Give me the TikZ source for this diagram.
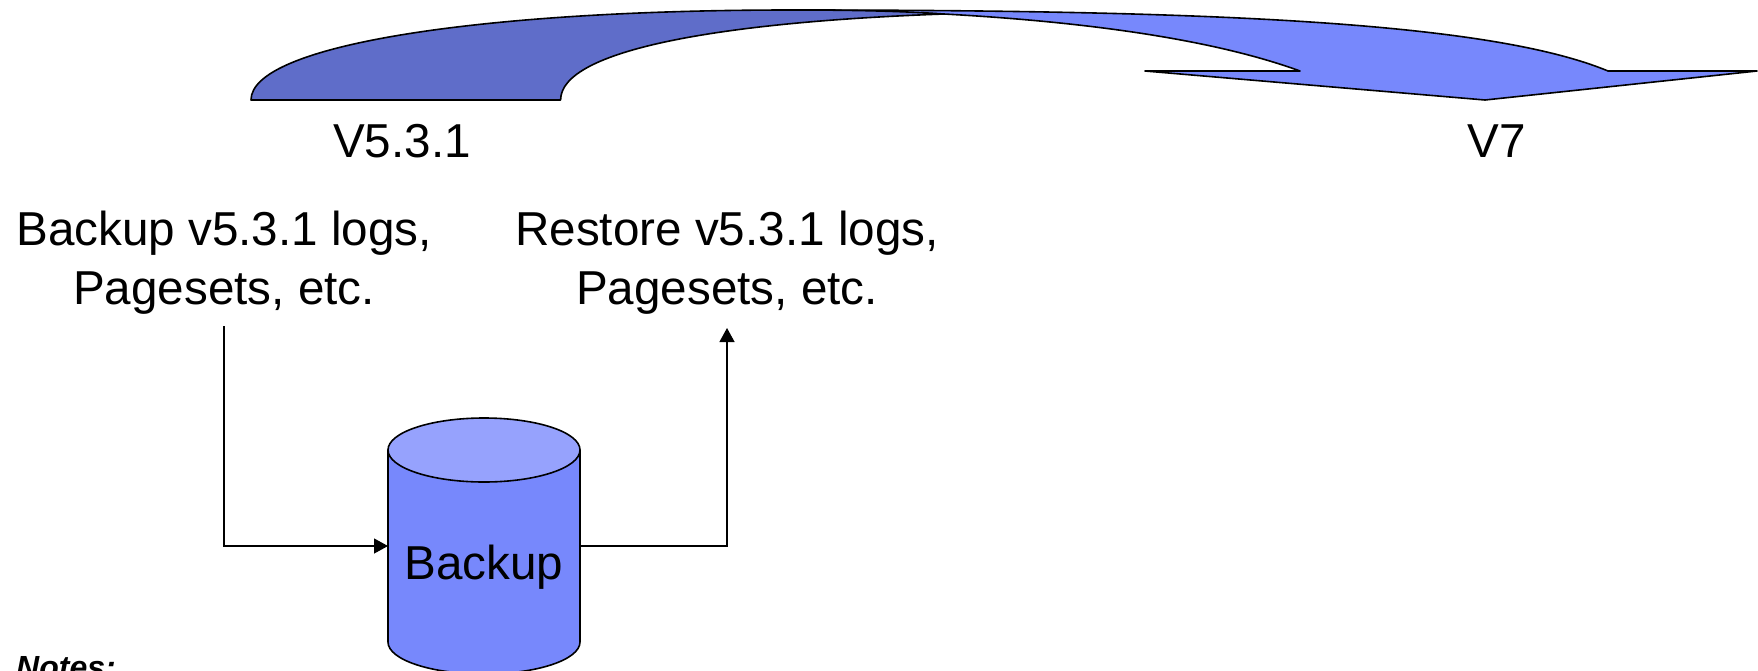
\documentclass[tikz,border=0pt]{standalone}
\usepackage{fontspec}
\setmainfont{Liberation Sans}
\usetikzlibrary{arrows.meta}
\definecolor{bluebody}{RGB}{119,136,252}
\definecolor{bluedark}{RGB}{95,109,201}
\definecolor{bluetop}{RGB}{150,162,253}
\tikzset{
  x=1pt,y=-1pt,
  shapeline/.style={draw=black,line width=1.6pt,line join=round},
  conn/.style={draw=black,line width=1.3pt,-{Triangle[length=14pt,width=15pt]}},
  lab/.style={font=\fontsize{47.6}{59}\selectfont,align=center,inner sep=0pt,text=black},
}
\begin{document}
\begin{tikzpicture}
\useasboundingbox (0,0) rectangle (1758,670);
\clip (0,0) rectangle (1758,670);
% curved arrow: light part
\path[shapeline,fill=bluebody] (791,10) .. controls (1210,10) and (1490,22) .. (1608,71)
  -- (1757,71) -- (1485,100) -- (1145,71) -- (1300,71)
  .. controls (1215,40) and (1090,22) .. (944,14) -- cycle;
% curved arrow: dark part
\path[shapeline,fill=bluedark] (251,100) .. controls (251,45) and (480,10) .. (791,10)
  .. controls (850,10) and (900,11) .. (944,14)
  .. controls (720,22) and (560.6,50) .. (560.6,100) -- cycle;
\node[lab,anchor=base] (v531) at (402,157) {V5.3.1};
\node[lab,anchor=base] (v7) at (1497,157) {V7};
\node[lab] (bk) at (224,263) {Backup v5.3.1 logs,\\Pagesets, etc.};
\node[lab] (rs) at (727,263) {Restore v5.3.1 logs,\\Pagesets, etc.};
% cylinder
\path[shapeline,fill=bluebody] (388,450) -- (388,642)
  arc[start angle=180,end angle=360,x radius=96,y radius=-32] -- (580,450) -- cycle;
\path[shapeline,fill=bluetop] (484,450) ellipse[x radius=96,y radius=32];
\coordinate (cylL) at (388,546);
\coordinate (cylR) at (580,546);
\node[lab,anchor=base] (cyl) at (484,579) {Backup};
\coordinate (bkfoot) at (224,326);
\coordinate (rsfoot) at (727,328);
\draw[conn] (bkfoot) |- (cylL);
\draw[conn] (cylR) -| (rsfoot);
\node[anchor=base west,inner sep=0pt,font=\fontsize{32}{38}\selectfont\bfseries\itshape] (notes) at (16,678) {Notes:};
\end{tikzpicture}
\end{document}
